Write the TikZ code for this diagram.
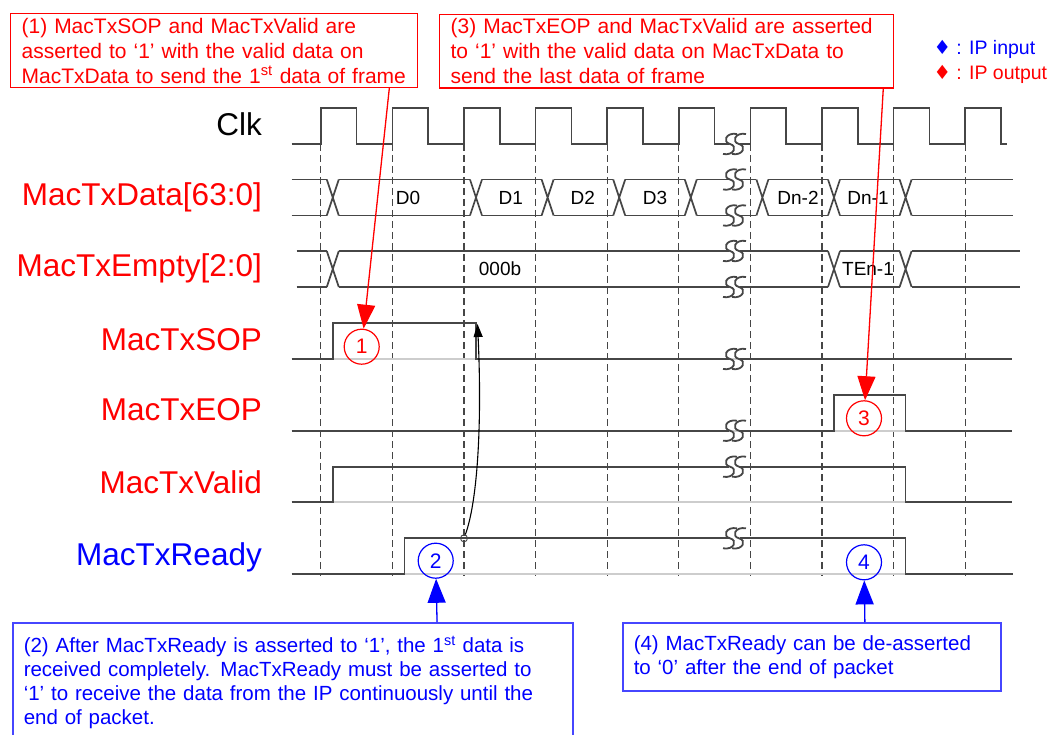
\documentclass[tikz,border=0pt]{standalone}
\usepackage{fontspec}
\setmainfont{Liberation Sans}
\newfontfamily\symfont{DejaVu Sans}
\usetikzlibrary{arrows.meta,calc,positioning}
\definecolor{sigline}{RGB}{70,70,70}
\definecolor{ghost}{RGB}{205,205,205}
\definecolor{noteblue}{RGB}{70,70,255}

\begin{document}
\begin{tikzpicture}[x=1pt, y=-1pt,
    sig/.style={draw=sigline, line width=1.7pt},
    base/.style={draw=ghost, line width=1.6pt},
    tick/.style={draw=sigline, line width=1.3pt, dash pattern=on 7pt off 4pt},
    signame/.style={font=\fontsize{31.5}{37}\selectfont, anchor=base east, inner sep=0pt},
    val/.style={font=\fontsize{19}{22}\selectfont, inner sep=0pt},
    rednote/.style={rectangle, draw=red, line width=1.2pt, text=red, anchor=north west, align=left,
        font=\fontsize{21}{25}\selectfont, inner xsep=11pt, inner ysep=4pt},
    bluenote/.style={rednote, draw=noteblue, text=blue, line width=1.5pt, font=\fontsize{20.5}{24}\selectfont},
    tag/.style={circle, draw, line width=1.2pt, minimum size=35pt, inner sep=0pt, font=\fontsize{21}{24}\selectfont},
    callout/.style={line width=1.3pt, -{Triangle[length=24pt,width=18pt]}}]
    \useasboundingbox (0,0) rectangle (1049,735);

    % clock edges
    \foreach \k in {0,...,9}
        \draw[tick] ({320.8+71.6*\k},144) -- ({320.8+71.6*\k},576);

    \node[signame] (lclk) at (262,136) {Clk};
    \node[signame, text=red] (ldata) at (262,206) {MacTxData[63:0]};
    \node[signame, text=red] (lempty) at (262,276.7) {MacTxEmpty[2:0]};
    \node[signame, text=red] (lsop) at (262,350) {MacTxSOP};
    \node[signame, text=red] (leop) at (262,420.7) {MacTxEOP};
    \node[signame, text=red] (lvalid) at (262,493.3) {MacTxValid};
    \node[signame, text=blue] (lready) at (262,565) {MacTxReady};

    \draw[sig] (291.7,144) foreach \k in {0,...,5} { -- ({320.8+71.6*\k},144) -- ({320.8+71.6*\k},108)
        -- ({356.6+71.6*\k},108) -- ({356.6+71.6*\k},144) } -- (729,144);
    \draw[sig] (740,144) foreach \k in {6,...,9} { -- ({320.8+71.6*\k},144) -- ({320.8+71.6*\k},108)
        -- ({356.6+71.6*\k},108) -- ({356.6+71.6*\k},144) } -- (1007,144);

    % data bus
    \foreach \a/\b in {291.7/326.8, 338.8/470, 482/541.6, 553.6/613.2, 625.2/684.8, 696.8/729,
                       740/756.4, 768.4/828, 840/899.6, 911.6/1013}
        \draw[sig] (\a,179.5) -- (\b,179.5) (\a,215.5) -- (\b,215.5);
    \foreach \k in {0,2,3,4,5,6,7,8}
        \draw[sig] ({326.8+71.6*\k},179.5) -- ({338.8+71.6*\k},215.5) ({326.8+71.6*\k},215.5) -- ({338.8+71.6*\k},179.5);
    \node[val] (d0) at (408,197.5) {D0};
    \node[val] (d1) at (510.7,197.5) {D1};
    \node[val] (d2) at (582.7,197.5) {D2};
    \node[val] (d3) at (655,197.5) {D3};
    \node[val] (dn2) at (798,197.5) {Dn-2};
    \node[val] (dn1) at (868,197.5) {Dn-1};

    % empty bus
    \foreach \a/\b in {296.7/326.8, 338.8/729, 740/828, 840/899.6, 911.6/1020}
        \draw[sig] (\a,251) -- (\b,251) (\a,287) -- (\b,287);
    \foreach \k in {0,7,8}
        \draw[sig] ({326.8+71.6*\k},251) -- ({338.8+71.6*\k},287) ({326.8+71.6*\k},287) -- ({338.8+71.6*\k},251);
    \node[val] (e0) at (500,269) {000b};
    \node[val] (en1) at (868,269) {TEn-1};

    % single-bit signals
    \foreach \y in {359,430.7,502,574}
        \draw[base] (291.7,\y) -- (1012,\y);
    \draw[sig] (291.7,359) -- (332.7,359) -- (332.7,323.3) -- (476,323.3) -- (476,359) -- (729,359);
    \draw[sig] (740,359) -- (1012,359);
    \draw[sig] (291.7,430.7) -- (729,430.7);
    \draw[sig] (740,430.7) -- (834,430.7) -- (834,395) -- (905.6,395) -- (905.6,430.7) -- (1012,430.7);
    \draw[sig] (291.7,502) -- (332.7,502) -- (332.7,466.7) -- (729,466.7);
    \draw[sig] (740,466.7) -- (905.6,466.7) -- (905.6,502) -- (1012,502);
    \draw[sig] (291.7,574) -- (404.4,574) -- (404.4,538.3) -- (729,538.3);
    \draw[sig] (740,538.3) -- (905.6,538.3) -- (905.6,574) -- (1013,574);

    % breaks
    \foreach \y in {144,179.5,215.5,251,287,359,430.7,466.7,538.3}
        \foreach \cx in {730,739}
            \draw[sig, line width=1.8pt] ({\cx+7},{\y-10}) .. controls ({\cx-4},{\y-12}) and ({\cx-8},{\y-2}) .. (\cx,\y)
                .. controls ({\cx+8},{\y+2}) and ({\cx+4},{\y+12}) .. ({\cx-7},{\y+10});

    \node[tag, draw=red, text=red] (c1) at (361.7,346.7) {1};
    \node[tag, draw=blue, text=blue] (c2) at (435.7,560.7) {2};
    \node[tag, draw=red, text=red] (c3) at (864,418.3) {3};
    \node[tag, draw=blue, text=blue] (c4) at (864,562.3) {4};

    \node[circle, draw=sigline, line width=0.9pt, inner sep=0pt, minimum size=7pt] (hit) at (464,538.3) {};
    \coordinate (sopfall) at (477.5,324);
    \draw[black, line width=1.1pt, -{Triangle[length=13pt,width=9pt]}] (hit) .. controls (478,500) and (482,420) .. (sopfall);

    \node[rednote, text width=384.7pt] (n1) at (10,13.3)
        {(1) MacTxSOP and MacTxValid are\\asserted to ‘1’ with the valid data on\\MacTxData to send the 1\textsuperscript{st} data of frame};
    \node[rednote, text width=432pt] (n3) at (439,14)
        {(3) MacTxEOP and MacTxValid are asserted\\to ‘1’ with the valid data on MacTxData to\\send the last data of frame};
    \node[bluenote, text width=538pt, inner ysep=13pt] (n2) at (12,622)
        {(2) After MacTxReady is asserted to ‘1’, the 1\textsuperscript{st} data is\\received completely. MacTxReady must be asserted to\\‘1’ to receive the data from the IP continuously until the\\end of packet.};
    \node[bluenote, text width=356pt, minimum height=68pt] (n4) at (622,622)
        {(4) MacTxReady can be de-asserted\\to ‘0’ after the end of packet};

    \draw[callout, draw=red, fill=red] ($(n1.south west)!0.93!(n1.south east)$) -- (c1);
    \draw[callout, draw=red, fill=red] ($(n3.south west)!0.976!(n3.south east)$) -- (c3);
    \draw[callout, draw=blue, fill=blue] ($(n2.north west)!0.757!(n2.north east)$) -- (c2);
    \draw[callout, draw=blue, fill=blue] ($(n4.north west)!0.64!(n4.north east)$) -- (c4);

    \node[anchor=base west, text=blue, font=\fontsize{19.5}{23}\selectfont] (legin) at (930,55) {{\symfont ♦} : IP input};
    \node[anchor=base west, text=red, font=\fontsize{19.5}{23}\selectfont] (legout) at (930,80) {{\symfont ♦} : IP output};
\end{tikzpicture}
\end{document}
